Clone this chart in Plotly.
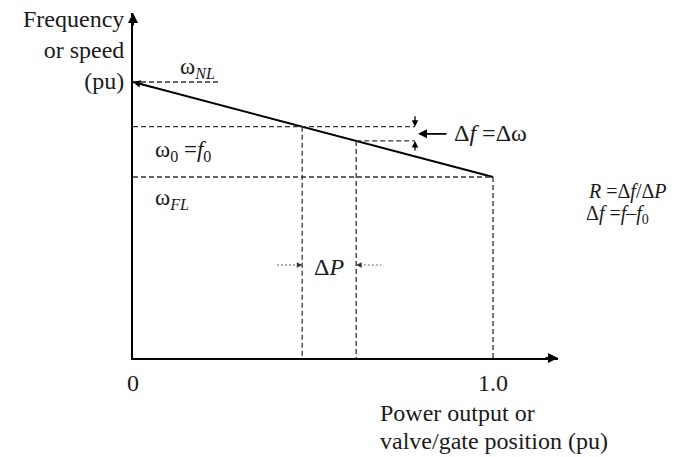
import plotly.graph_objects as go

# ---- data (schematic speed-droop characteristic) ----
power_pu = [0.0, 1.0]            # no load -> full load
speed_pu = [1.05, 0.95]          # omega_NL -> omega_FL
P_points = [0.47, 0.62]          # two operating points
f_points = [1.003, 0.988]        # omega0 = f0, and f
x_ticks = [0, 1]
x_ticktext = ["0", "1.0"]

omega_nl, omega_fl = speed_pu
P0, P1 = P_points
omega0, omega1 = f_points

# ---- layout geometry (pixels) ----
W, H = 687, 457
L, R, T, B = 133, 558, 13, 358
XPX = 360.0                      # pixels per pu on x
YPX = 950.0                      # pixels per pu on y
y_nl_px = 82
xmax = (R - L) / XPX
ymax = omega_nl + (y_nl_px - T) / YPX
ymin = omega_nl - (B - y_nl_px) / YPX

def px(x):
    return (x - L) / (R - L)

def py(y):
    return (B - y) / (B - T)

def xd(x):
    return (x - L) / XPX

def yd(y):
    return omega_nl - (y - y_nl_px) / YPX

FONT = "Liberation Serif, Times New Roman, serif"
TXT = "#1a1a1a"
DASH_C = "#333333"

fig = go.Figure()

# droop line
fig.add_trace(go.Scatter(x=power_pu, y=speed_pu, mode="lines",
                         line=dict(color="black", width=2), hoverinfo="skip"))

df_x = xd(415)
nl_end = xd(218)
dash_x = [0, nl_end, None,
          0, df_x, None,
          P1, df_x, None,
          0, power_pu[1], None,
          P0, P0, None,
          P1, P1, None,
          power_pu[1], power_pu[1]]
dash_y = [omega_nl, omega_nl, None,
          omega0, omega0, None,
          omega1, omega1, None,
          omega_fl, omega_fl, None,
          omega0, ymin, None,
          omega1, ymin, None,
          omega_fl, ymin]
fig.add_trace(go.Scatter(x=dash_x, y=dash_y, mode="lines",
                         line=dict(color=DASH_C, width=1.3, dash="5px,3px"),
                         hoverinfo="skip"))

# dotted tails of delta-P arrows
dp_y = yd(265)
fig.add_trace(go.Scatter(x=[P0 - 0.07, P0 - 0.01, None, P1 + 0.01, P1 + 0.07],
                         y=[dp_y, dp_y, None, dp_y, dp_y], mode="lines",
                         line=dict(color="#666", width=1, dash="2px,2px"),
                         hoverinfo="skip"))

ann = []
def arrow(x, y, ax, ay, w=1.5, size=1.0, color="black", xref="x", yref="y"):
    ann.append(dict(x=x, y=y, xref=xref, yref=yref, ax=ax, ay=ay, text="",
                    showarrow=True, arrowhead=2, arrowsize=size, arrowwidth=w,
                    arrowcolor=color))

# axis arrowheads
arrow(1, 0, -14, 0, w=2, xref="paper", yref="paper")
arrow(0, 1, 0, 14, w=2, xref="paper", yref="paper")
# droop-line arrowhead at no-load
arrow(0, omega_nl, 22, 22 * 95 / 360, w=1.5)
# delta f arrows
arrow(df_x, omega0, 0, -12, w=1.3)
arrow(df_x, omega1, 0, 11, w=1.3)
arrow(xd(418), (omega0 + omega1) / 2, 30, 0, w=1.8)
# delta P arrowheads
arrow(P0, dp_y, -6, 0, w=1.2, size=0.9, color="#333")
arrow(P1, dp_y, 6, 0, w=1.2, size=0.9, color="#333")

def text(s, x, y, xanchor="left", size=22, align="left"):
    ann.append(dict(text=s, x=px(x), y=py(y), xref="paper", yref="paper",
                    xanchor=xanchor, yanchor="middle", showarrow=False,
                    align=align, font=dict(family=FONT, size=size, color=TXT)))

text("Frequency<br>or speed<br>(pu)", 126, 50, xanchor="right", size=24, align="right")
text("ω<sub><i>NL</i></sub>", 178, 68, size=23)
text("ω<sub>0</sub> =<i>f</i><sub>0</sub>", 153, 151, size=23)
text("ω<sub><i>FL</i></sub>", 153, 199, size=23)
text("Δ<i>f</i> =Δω", 452, 133, size=24)
text("Δ<i>P</i>", 329, 267, xanchor="center", size=24)
text("<i>R</i> =Δ<i>f</i>/Δ<i>P</i>", 586, 191, size=20)
text("Δ<i>f</i> =<i>f</i>–<i>f</i><sub>0</sub>", 584, 214, size=20)
text("Power output or", 378, 413, size=24)
text("valve/gate position (pu)", 378, 441, size=24)

fig.update_layout(
    width=W, height=H,
    margin=dict(l=L, r=W - R, t=T, b=H - B, pad=0),
    paper_bgcolor="white", plot_bgcolor="white",
    showlegend=False,
    annotations=ann,
    xaxis=dict(range=[0, xmax], showgrid=False, zeroline=False,
               showline=True, linecolor="black", linewidth=2,
               tickvals=x_ticks, ticktext=x_ticktext, ticks="",
               ticklabelstandoff=2,
               tickfont=dict(family=FONT, size=24, color=TXT)),
    yaxis=dict(range=[ymin, ymax], showgrid=False, zeroline=False,
               showline=True, linecolor="black", linewidth=2,
               showticklabels=False, ticks=""),
)

fig.write_html("out.html",
               config={"displayModeBar": False},
               post_script="document.body.style.margin='0px';"
                           "document.body.style.overflow='hidden';")
